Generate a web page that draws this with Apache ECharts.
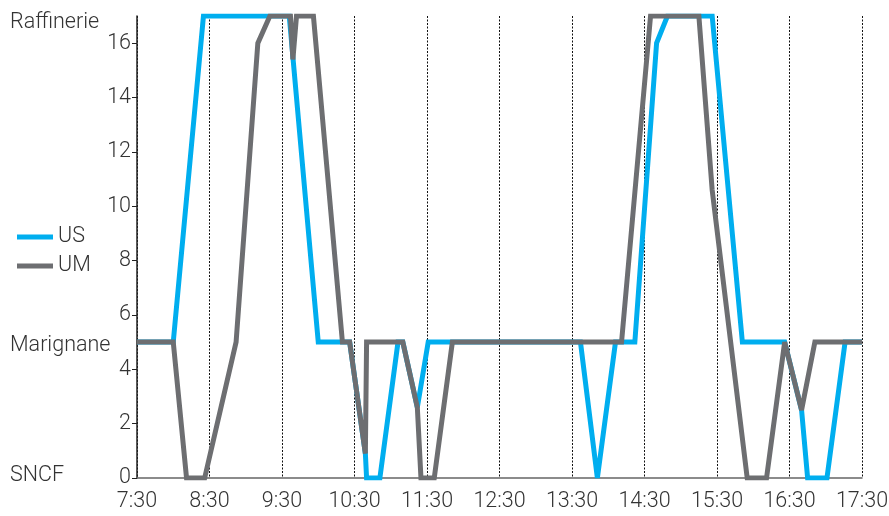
<!DOCTYPE html>
<html>
<head>
<meta charset="utf-8">
<script src="https://cdn.jsdelivr.net/npm/echarts@6/dist/echarts.min.js"></script>
<style>
  html, body { margin: 0; padding: 0; background: #fff; }
  #chart { width: 889px; height: 516px; }
</style>
</head>
<body>
<div id="chart"></div>
<script>
// heure de départ de l'axe (7:30)
const startMin = 7 * 60 + 30

// US
const usTimes = ['7:30', '8:00', '8:25', '9:36', '10:00', '10:21', '10:26', '10:39', '10:40', '10:51', '11:06', '11:10', '11:22', '11:31',
  '13:37', '13:51', '14:06', '14:22', '14:40', '14:49', '15:26', '15:51', '16:26', '16:40', '16:45', '17:01', '17:16', '17:30']
const usValues = [5, 5, 17, 17, 5, 5, 5, 0.9, 0, 0, 5, 5, 2.6, 5,
  5, 0, 5, 5, 16, 17, 17, 5, 5, 2.5, 0, 0, 5, 5]

// UM
const umTimes = ['7:30', '8:00', '8:11', '8:26', '8:52', '9:10', '9:20', '9:37', '9:39', '9:42', '9:56', '10:20', '10:26', '10:39', '10:40',
  '11:10', '11:22', '11:25', '11:36', '11:51', '14:11', '14:35', '15:15', '15:26', '15:55', '16:11', '16:26', '16:40', '16:51', '17:30']
const umValues = [5, 5, 0, 0, 5, 16, 17, 17, 15.4, 17, 17, 5, 5, 0.9, 5,
  5, 2.6, 0, 0, 5, 5, 17, 17, 10.6, 0, 0, 5, 2.5, 5, 5]

const yTicks = [0, 2, 4, 6, 8, 10, 12, 14, 16]
const places = [
  { name: 'Raffinerie', level: 16.7 },
  { name: 'Marignane', level: 4.8 },
  { name: 'SNCF', level: 0 }
]

const font = 'Roboto, "Liberation Sans", sans-serif'
const fs = 21.5

function toMin(t) {
  const p = t.split(':')
  return +p[0] * 60 + +p[1] - startMin
}
function fmt(v) {
  const m = v + startMin
  return Math.floor(m / 60) + ':' + String(m % 60).padStart(2, '0')
}
function pairs(times, values) {
  return times.map((t, i) => [toMin(t), values[i]])
}

const chart = echarts.init(document.getElementById('chart'))

chart.setOption({
  animation: false,
  textStyle: { fontFamily: font },
  grid: {
    left: 137,
    right: 27,
    top: 16,
    bottom: 38,
    outerBoundsMode: 'none'
  },
  legend: {
    orient: 'vertical',
    left: 12,
    top: 221,
    icon: 'rect',
    itemWidth: 36,
    itemHeight: 5,
    itemGap: 7,
    textStyle: { fontSize: fs, color: '#333', fontWeight: 300, fontFamily: font },
    data: ['US', 'UM']
  },
  xAxis: {
    type: 'value',
    min: 0,
    max: 600,
    interval: 60,
    axisLine: { lineStyle: { color: '#666', width: 1.5 } },
    axisTick: { show: false },
    axisLabel: {
      formatter: fmt,
      fontSize: fs,
      color: '#333',
      fontWeight: 300,
      margin: 13
    },
    splitLine: {
      show: true,
      lineStyle: { color: '#111', width: 1, type: [2, 1.5] }
    }
  },
  yAxis: {
    type: 'value',
    min: 0,
    max: 17,
    axisLine: { show: true, lineStyle: { color: '#222', width: 1.5 } },
    axisTick: { show: true, length: 5, customValues: yTicks, lineStyle: { color: '#222' } },
    axisLabel: {
      customValues: yTicks,
      fontSize: fs,
      color: '#333',
      fontWeight: 300,
      margin: 6
    },
    splitLine: { show: false }
  },
  series: [
    {
      name: 'US',
      type: 'line',
      symbol: 'none',
      color: '#00AEEF',
      lineStyle: { width: 5, color: '#00AEEF', join: 'miter', miterLimit: 3 },
      data: pairs(usTimes, usValues)
    },
    {
      name: 'UM',
      type: 'line',
      symbol: 'none',
      color: '#6D6E71',
      lineStyle: { width: 5, color: '#6D6E71', join: 'miter', miterLimit: 3 },
      data: pairs(umTimes, umValues)
    }
  ]
})

// noms des sites, placés sur l'échelle de l'axe y
chart.setOption({
  graphic: places.map(p => ({
    type: 'text',
    left: 10,
    top: chart.convertToPixel({ yAxisIndex: 0 }, p.level) - 13,
    style: {
      text: p.name,
      fontSize: fs,
      fontWeight: 300,
      fontFamily: font,
      fill: '#333'
    }
  }))
})
</script>
</body>
</html>
